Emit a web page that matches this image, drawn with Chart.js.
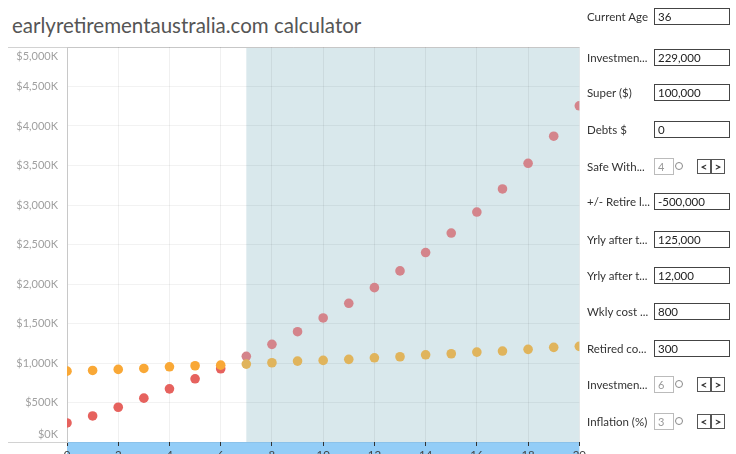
<!DOCTYPE html>
<html>
<head>
<meta charset="utf-8">
<script src="https://cdn.jsdelivr.net/npm/chart.js@4/dist/chart.umd.min.js"></script>
<style>
body { margin: 0; width: 736px; height: 454px; overflow: hidden; background: #fff; font-family: Lato, "Noto Sans", sans-serif; position: relative; }
#title { position: absolute; left: 12px; top: 13px; font-size: 20.5px; color: #555; white-space: nowrap; }
#wrap { position: absolute; left: 0; top: 0; width: 588px; height: 470px; }
.lbl { position: absolute; left: 587px; font-size: 11.5px; color: #333; line-height: 17px; white-space: nowrap; }
.box { position: absolute; left: 654px; width: 71px; height: 15px; border: 1px solid #444; font-size: 11.5px; line-height: 15px; color: #222; padding-left: 3px; box-sizing: content-box; }
.sbox { position: absolute; left: 654px; width: 15px; height: 15px; border: 1px solid #bbb; font-size: 11px; line-height: 15px; color: #999; padding-left: 3px; }
.dot { position: absolute; left: 675px; width: 6px; height: 6px; border: 1px solid #888; border-radius: 50%; }
.arr { position: absolute; width: 12px; height: 13px; border: 1px solid #555; font-size: 12px; line-height: 13px; text-align: center; color: #333; font-weight: bold; }
</style>
</head>
<body>
<div id="title">earlyretirementaustralia.com calculator</div>
<div id="wrap"><canvas id="retireChart"></canvas></div>
<div id="panel"></div>
<script>
// Años desde hoy (eje x)
var years = [0, 1, 2, 3, 4, 5, 6, 7, 8, 9, 10, 11, 12, 13, 14, 15, 16, 17, 18, 19, 20];

// Patrimonio proyectado, en miles de $ (puntos rojos)
var netWorth = [241, 330, 440, 555, 673, 800, 927, 1084, 1236, 1396, 1570, 1756, 1954, 2166, 2398, 2645, 2911, 3203, 3528, 3871, 4256];

// Monto necesario para retirarse, en miles de $ (puntos naranjas)
var retireTarget = [897, 906, 919, 931, 952, 965, 973, 986, 1003, 1024, 1033, 1046, 1066, 1079, 1104, 1117, 1138, 1151, 1173, 1198, 1211];

// Etiquetas del eje y (miles de $)
var yTicks = [0, 500, 1000, 1500, 2000, 2500, 3000, 3500, 4000, 4500, 5000];

// Año en que empieza la zona sombreada (ya retirado)
var retireYear = 7;

// Controles del panel derecho
var paramLabels = ['Current Age', 'Investmen...', 'Super ($)', 'Debts $', 'Safe With...', '+/- Retire l...', 'Yrly after t...', 'Yrly after t...', 'Wkly cost ...', 'Retired co...', 'Investmen...', 'Inflation (%)'];
var paramValues = ['36', '229,000', '100,000', '0', '4', '-500,000', '125,000', '12,000', '800', '300', '6', '3'];
var paramSlider = [false, false, false, false, true, false, false, false, false, false, true, true];
var rowCenters = [16, 57, 92, 129, 166, 201, 239, 275, 311, 348, 384, 421];

// Construir el panel
var panel = document.getElementById('panel');
paramLabels.forEach(function (txt, i) {
    var c = rowCenters[i];
    var html = '<div class="lbl" style="top:' + (c - 8) + 'px">' + txt + '</div>';
    if (paramSlider[i]) {
        html += '<div class="sbox" style="top:' + (c - 8) + 'px">' + paramValues[i] + '</div>';
        html += '<div class="dot" style="top:' + (c - 4) + 'px"></div>';
        html += '<div class="arr" style="left:697px;top:' + (c - 7) + 'px">&lt;</div>';
        html += '<div class="arr" style="left:711px;top:' + (c - 7) + 'px">&gt;</div>';
    } else {
        html += '<div class="box" style="top:' + (c - 8) + 'px">' + paramValues[i] + '</div>';
    }
    panel.insertAdjacentHTML('beforeend', html);
});

function fmtK(v) {
    return '$' + v.toLocaleString('en-US') + 'K';
}

// Colores: vivos antes del retiro, apagados dentro de la zona sombreada
function pointColor(bright, muted) {
    return function (ctx) {
        return ctx.raw && ctx.raw.x >= retireYear ? muted : bright;
    };
}

// Fondo: zona sombreada, banda azul del eje x, líneas del marco y etiquetas del eje y
var framePlugin = {
    id: 'frame',
    beforeDraw: function (chart) {
        var c = chart.ctx, a = chart.chartArea;
        var xs = chart.scales.x;
        var x0 = xs.getPixelForValue(retireYear);
        c.save();
        c.fillStyle = '#d9e8ec';
        c.fillRect(x0, a.top, a.right - x0, a.bottom - a.top);
        c.fillStyle = '#93cdf7';
        c.fillRect(a.left, a.bottom, a.right - a.left, chart.height - a.bottom);
        c.strokeStyle = '#d2d2d2';
        c.lineWidth = 1;
        c.beginPath();
        c.moveTo(8, a.top + 0.5);
        c.lineTo(a.right, a.top + 0.5);
        c.moveTo(8, a.bottom + 0.5);
        c.lineTo(a.left, a.bottom + 0.5);
        c.stroke();
        c.restore();
    },
    afterDraw: function (chart) {
        var c = chart.ctx, a = chart.chartArea;
        var ys = chart.scales.y;
        c.save();
        c.fillStyle = '#a0a0a0';
        c.font = '11px Lato, sans-serif';
        c.textAlign = 'right';
        c.textBaseline = 'middle';
        yTicks.forEach(function (v) {
            var y = ys.getPixelForValue(v);
            y = Math.min(Math.max(y, a.top + 9), a.bottom - 8);
            c.fillText(fmtK(v), a.left - 9, y);
        });
        c.restore();
    }
};

var ctx = document.getElementById('retireChart').getContext('2d');

var retireChart = new Chart(ctx, {
    type: 'scatter',
    data: {
        datasets: [{
            label: 'Retire target',
            data: years.map(function (x, i) { return { x: x, y: retireTarget[i] }; }),
            pointRadius: 4.8,
            pointHoverRadius: 4.8,
            pointBorderWidth: 0,
            pointBackgroundColor: pointColor('#f9a836', '#e0b45c'),
            clip: 0
        }, {
            label: 'Net worth',
            data: years.map(function (x, i) { return { x: x, y: netWorth[i] }; }),
            pointRadius: 4.8,
            pointHoverRadius: 4.8,
            pointBorderWidth: 0,
            pointBackgroundColor: pointColor('#e6625e', '#d4848b'),
            clip: 0
        }]
    },
    options: {
        responsive: true,
        maintainAspectRatio: false,
        animation: false,
        layout: { padding: { top: 47, right: 6, left: 0, bottom: 0 } },
        plugins: {
            legend: { display: false },
            tooltip: { enabled: false }
        },
        scales: {
            x: {
                type: 'linear',
                min: 0,
                max: 20,
                ticks: { stepSize: 2, color: '#444', font: { family: 'Lato', size: 11.5 }, padding: 2, maxRotation: 0 },
                grid: { color: 'rgba(0,0,0,0.06)', tickColor: '#333', tickLength: 4 },
                border: { display: false },
                afterFit: function (s) { s.height = 28; }
            },
            y: {
                min: 0,
                max: 5000,
                ticks: { stepSize: 500, display: false },
                grid: { color: 'rgba(0,0,0,0.05)', drawTicks: false },
                border: { color: '#c8c8c8' },
                afterFit: function (s) { s.width = 67; }
            }
        }
    },
    plugins: [framePlugin]
});
</script>
</body>
</html>
